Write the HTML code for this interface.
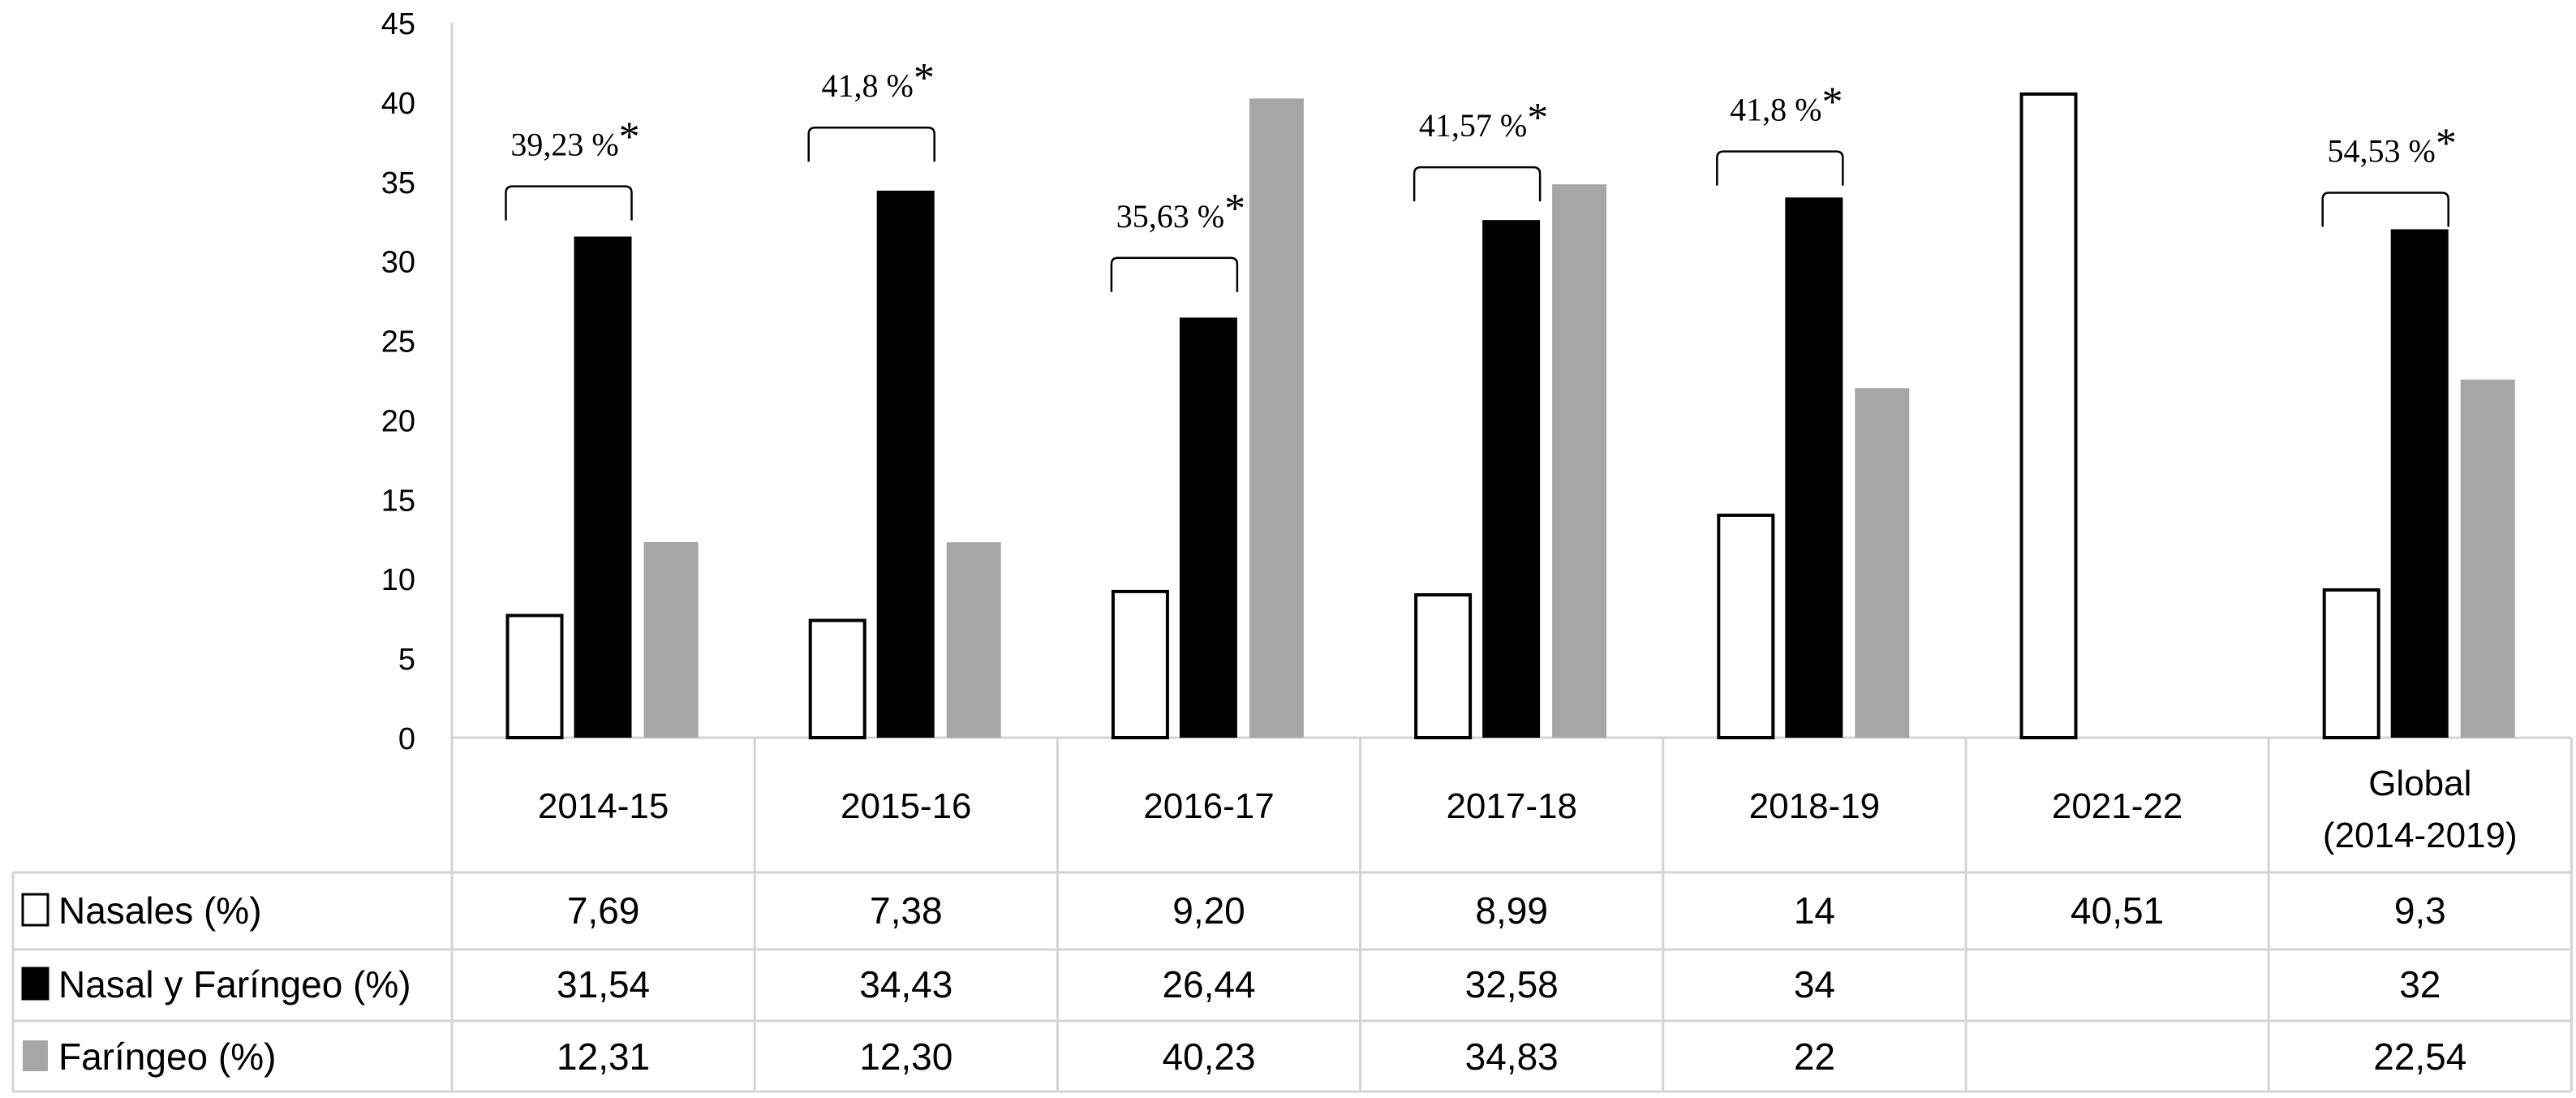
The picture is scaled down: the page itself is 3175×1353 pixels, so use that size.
<!DOCTYPE html>
<html><head><meta charset="utf-8"><style>
html,body{margin:0;padding:0;background:#fff}
svg{display:block}
text{font-family:"Liberation Sans",sans-serif;fill:#000}
.ann{font-family:"Liberation Serif",serif}
</style></head><body>
<svg id="chart" width="3175" height="1353" viewBox="0 0 3175 1353" xmlns="http://www.w3.org/2000/svg"></svg>
<script>
const categories=["2014-15","2015-16","2016-17","2017-18","2018-19","2021-22","Global (2014-2019)"];
const nasales=[7.69,7.38,9.20,8.99,14,40.51,9.3];
const nasalFaringeo=[31.54,34.43,26.44,32.58,34,null,32];
const faringeo=[12.31,12.30,40.23,34.83,22,null,22.54];
const nasalesLabels=["7,69","7,38","9,20","8,99","14","40,51","9,3"];
const nasalFaringeoLabels=["31,54","34,43","26,44","32,58","34","","32"];
const faringeoLabels=["12,31","12,30","40,23","34,83","22","","22,54"];
const yTicks=[0,5,10,15,20,25,30,35,40,45];
const annotations=["39,23 %","41,8 %","35,63 %","41,57  %","41,8 %",null,"54,53 %"];
const annotationLevel=[34.7,38.4,30.2,35.9,36.9,null,34.3];

const NS="http://www.w3.org/2000/svg";
const svg=document.getElementById('chart');
const axisX=557,zeroY=909,topY=28,colW=373.2,tableL=16,tableR=3169;
const rowY=[1075,1170,1258,1345];
const y=v=>zeroY-(v/45)*(zeroY-topY);
const colX=i=>axisX+i*colW;
function mk(tag,attrs,txt){const e=document.createElementNS(NS,tag);for(const k in attrs)e.setAttribute(k,attrs[k]);if(txt!==undefined)e.textContent=txt;svg.appendChild(e);return e;}
const grid="#d4d4d4";
let e;
e=mk('line',{x1:axisX,y1:topY,x2:axisX,y2:rowY[3],stroke:grid,'stroke-width':3});


e=mk('line',{x1:axisX,y1:zeroY,x2:tableR,y2:zeroY,stroke:grid,'stroke-width':3});


for(let i=1;i<=categories.length;i++){
 e=mk('line',{x1:colX(i),y1:zeroY,x2:colX(i),y2:rowY[3],stroke:grid,'stroke-width':3});
 
 
}
rowY.forEach(r=>{
 e=mk('line',{x1:tableL,y1:r,x2:tableR,y2:r,stroke:grid,'stroke-width':3});
 
 
});
e=mk('line',{x1:tableL,y1:rowY[0],x2:tableL,y2:rowY[3],stroke:grid,'stroke-width':3});


yTicks.forEach(t=>{
 e=mk('text',{x:512,y:y(t)+14,'text-anchor':'end','font-size':38},String(t));
 
 
});
const bw=67,offs=[102,186,270];
categories.forEach((c,i)=>{
 const x0=colX(i);
 if(nasales[i]!=null){e=mk('rect',{x:x0+offs[0]-bw/2,y:y(nasales[i]),width:bw,height:zeroY-y(nasales[i]),fill:'#fff',stroke:'#000','stroke-width':4});
  
  }
 if(nasalFaringeo[i]!=null){e=mk('rect',{x:x0+offs[1]-bw/2-2,y:y(nasalFaringeo[i]),width:bw+4,height:zeroY-y(nasalFaringeo[i]),fill:'#000'});
  
  }
 if(faringeo[i]!=null){e=mk('rect',{x:x0+offs[2]-bw/2,y:y(faringeo[i]),width:bw,height:zeroY-y(faringeo[i]),fill:'#a6a6a6'});
  
  }
 if(annotations[i]){
  const bt=y(annotationLevel[i]),bx1=x0+offs[0]-bw/2-2,bx2=x0+offs[1]+bw/2+2;
  e=mk('path',{d:`M${bx1},${bt+42} L${bx1},${bt+8} Q${bx1},${bt} ${bx1+8},${bt} L${bx2-8},${bt} Q${bx2},${bt} ${bx2},${bt+8} L${bx2},${bt+42}`,fill:'none',stroke:'#000','stroke-width':2.5});
  
  
  const t=mk('text',{x:(bx1+bx2)/2+8,y:bt-38,'text-anchor':'middle','font-size':40,class:'ann'});
  t.textContent=annotations[i];
  const s=document.createElementNS(NS,'tspan');s.setAttribute('font-size',52);s.setAttribute('dy',-6);s.textContent='*';t.appendChild(s);
  
  
 }
 const cx=x0+colW/2;
 if(c.startsWith('Global')){
  e=mk('text',{x:cx,y:980,'text-anchor':'middle','font-size':44},'Global');
  
  
  e=mk('text',{x:cx,y:1044,'text-anchor':'middle','font-size':44},'(2014-2019)');
  
  
 } else {
  e=mk('text',{x:cx,y:1008,'text-anchor':'middle','font-size':44},c);
  
  
 }
 [[nasalesLabels,1138],[nasalFaringeoLabels,1229],[faringeoLabels,1318]].forEach(([arr,yy])=>{
  e=mk('text',{x:cx,y:yy,'text-anchor':'middle','font-size':46},arr[i]);
  
  
 });
});
const leg=[["Nasales (%)",'#fff','#000',1138],["Nasal y Faríngeo (%)",'#000','#000',1229],["Faríngeo (%)",'#a6a6a6','none',1318]];
leg.forEach(([lab,f,s,yy])=>{
 e=mk('rect',{x:28,y:yy-36,width:31,height:38,fill:f,stroke:s,'stroke-width':3});
 
 
 e=mk('text',{x:72,y:yy,'font-size':46},lab);
 
 
});
</script>
</body></html>
